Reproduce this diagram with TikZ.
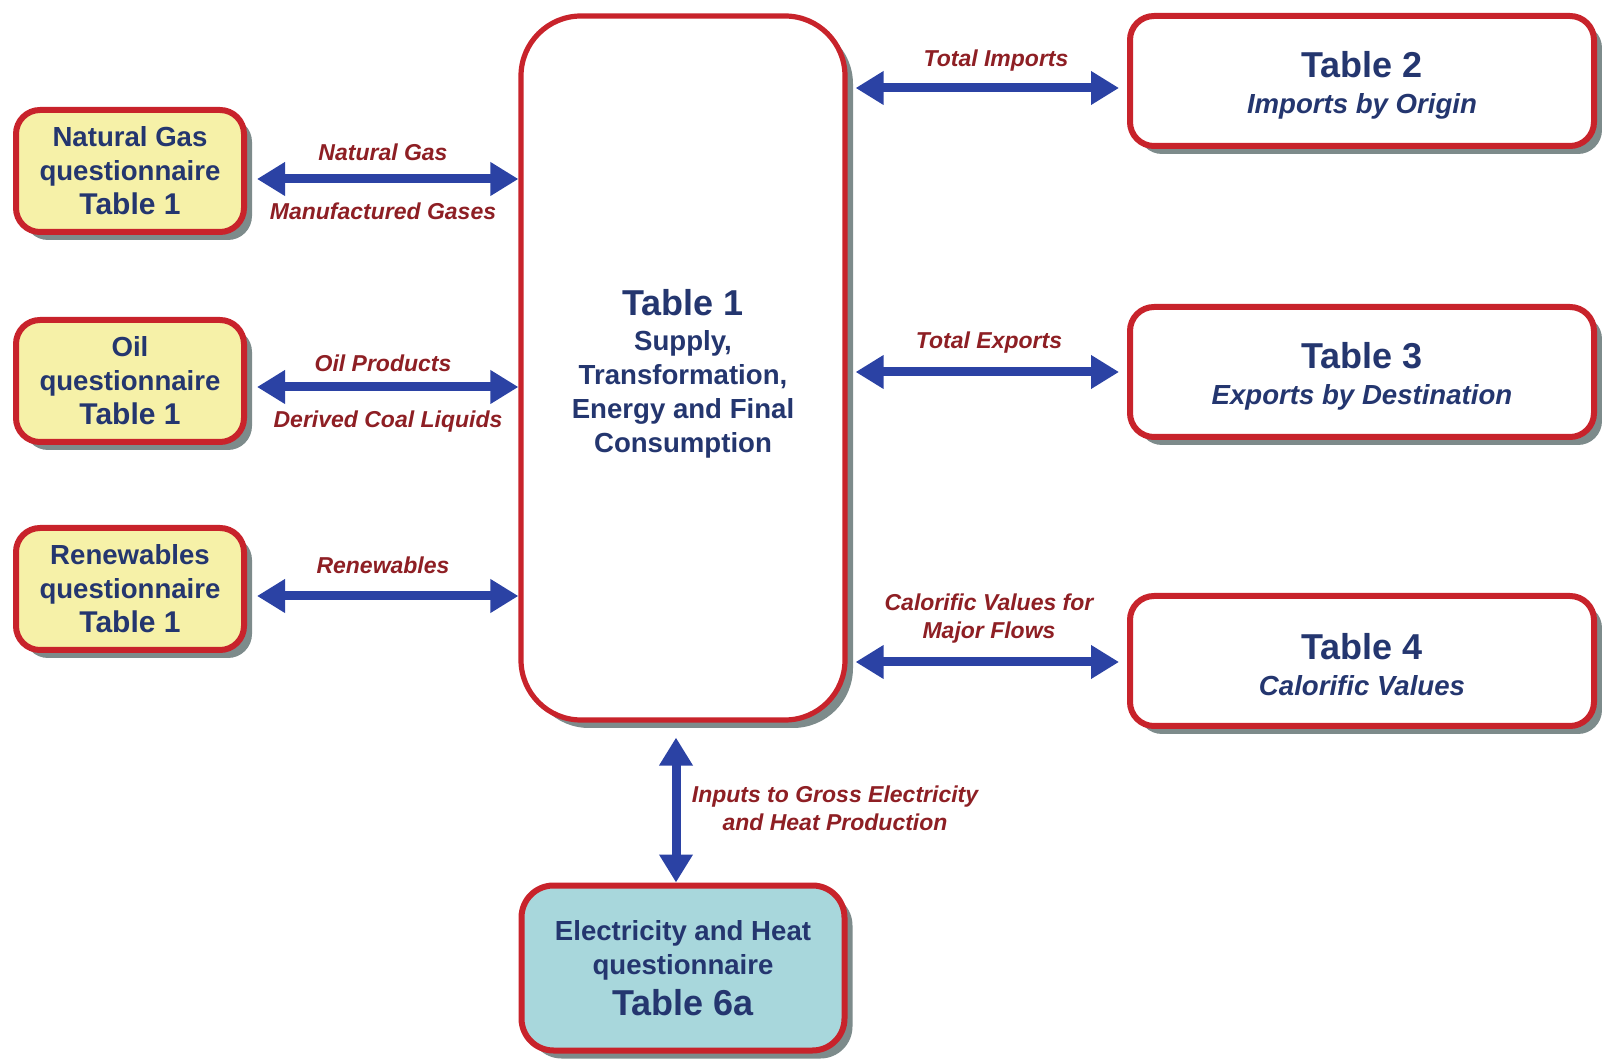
\documentclass[tikz,border=0pt]{standalone}
\usepackage{fontspec}
\setmainfont{Liberation Sans}
\usetikzlibrary{arrows.meta,shadows}
\definecolor{bred}{HTML}{C8232B}
\definecolor{tblue}{HTML}{24366F}
\definecolor{ablue}{HTML}{2B42A4}
\definecolor{lred}{HTML}{8E1F24}
\definecolor{yfill}{HTML}{F6F1A8}
\definecolor{cfill}{HTML}{A8D7DC}
\definecolor{shgray}{HTML}{7D8B8B}
\begin{document}
\begin{tikzpicture}[x=0.5pt,y=-0.5pt,
  box/.style={draw=bred, line width=3pt, rounded corners=12pt, align=center,
    text=tblue, font=\fontsize{13.8}{17}\selectfont\bfseries, inner sep=0pt,
    drop shadow={shadow xshift=4pt, shadow yshift=-4pt, fill=shgray, opacity=1}},
  txt/.style={align=center, text=tblue, font=\fontsize{13.8}{17}\selectfont\bfseries, inner sep=0pt},
  qbox/.style={box, fill=yfill, minimum width=114pt, minimum height=61pt},
  tbox/.style={box, fill=white, minimum width=232pt, minimum height=65pt},
  biarrow/.style={draw=ablue, line width=4.5pt, {Triangle[length=14pt,width=16pt]}-{Triangle[length=14pt,width=16pt]}},
  lab/.style={text=lred, font=\fontsize{11.5}{14}\selectfont\bfseries\itshape, align=center, inner sep=0pt}
]
\useasboundingbox (0,0) rectangle (1602,1063);

% left questionnaire boxes
\node[qbox] (ng) at (130,171) {Natural Gas\\ questionnaire\\ \fontsize{15}{17}\selectfont Table 1};
\node[qbox] (oil) at (130,381) {Oil\\ questionnaire\\ \fontsize{15}{17}\selectfont Table 1};
\node[qbox] (ren) at (130,589) {Renewables\\ questionnaire\\ \fontsize{15}{17}\selectfont Table 1};

% central box
\node[box, fill=white, line width=2.6pt, rounded corners=30pt, minimum width=162pt, minimum height=352pt] (central) at (683,368) {};
\node[txt] (centraltxt) at ([yshift=-3pt]central.center)
  {\fontsize{18}{19}\selectfont Table 1\\[0.5pt] Supply,\\ Transformation,\\ Energy and Final\\ Consumption};

% right table boxes
\node[tbox] (t2) at (1362,81) {};
\node[txt] (t2txt) at ([yshift=-2pt]t2.center) {\fontsize{18}{19}\selectfont Table 2\\[1pt] \itshape Imports by Origin};
\node[tbox] (t3) at (1362,372) {};
\node[txt] (t3txt) at ([yshift=-2pt]t3.center) {\fontsize{18}{19}\selectfont Table 3\\[1pt] \itshape Exports by Destination};
\node[tbox] (t4) at (1362,661) {};
\node[txt] (t4txt) at ([yshift=-2pt]t4.center) {\fontsize{18}{19}\selectfont Table 4\\[1pt] \itshape Calorific Values};

% electricity box
\node[box, fill=cfill, rounded corners=16pt, minimum width=161.5pt, minimum height=82.5pt] (elec) at (683,968)
  {Electricity and Heat\\ questionnaire\\[3.5pt] \fontsize{18}{19}\selectfont Table 6a};

% coordinates for connector ends
\coordinate (ngA) at ([xshift=5pt,yshift=-4pt]ng.east);
\coordinate (oilA) at ([xshift=5pt,yshift=-3pt]oil.east);
\coordinate (renA) at ([xshift=5pt,yshift=-3.5pt]ren.east);
\draw[biarrow] (ngA) -- (ngA -| central.west);
\draw[biarrow] (oilA) -- (oilA -| central.west);
\draw[biarrow] (renA) -- (renA -| central.west);

\coordinate (t2A) at ([xshift=-4pt,yshift=-3.5pt]t2.west);
\coordinate (t3A) at ([xshift=-4pt]t3.west);
\coordinate (t4A) at ([xshift=-4pt,yshift=-0.5pt]t4.west);
\draw[biarrow] ([xshift=4pt]t2A -| central.east) -- (t2A);
\draw[biarrow] ([xshift=4pt]t3A -| central.east) -- (t3A);
\draw[biarrow] ([xshift=4pt]t4A -| central.east) -- (t4A);

\coordinate (vtop) at ([xshift=-3.5pt,yshift=-7.5pt]central.south);
\draw[biarrow] (vtop) -- (vtop |- elec.north);

% labels
\node[lab] (l1) at (383,152) {Natural Gas};
\node[lab] (l2) at (383,211) {Manufactured Gases};
\node[lab] (l3) at (383,363) {Oil Products};
\node[lab] (l4) at (388,422) {Derived Coal Liquids};
\node[lab] (l5) at (383,565) {Renewables};
\node[lab] (l6) at (996,61) {Total Imports};
\node[lab] (l7) at (989,343) {Total Exports};
\node[lab] (l8) at (989,619) {Calorific Values for\\Major Flows};
\node[lab] (l9) at (835,808) {Inputs to Gross Electricity\\and Heat Production};
\end{tikzpicture}
\end{document}
